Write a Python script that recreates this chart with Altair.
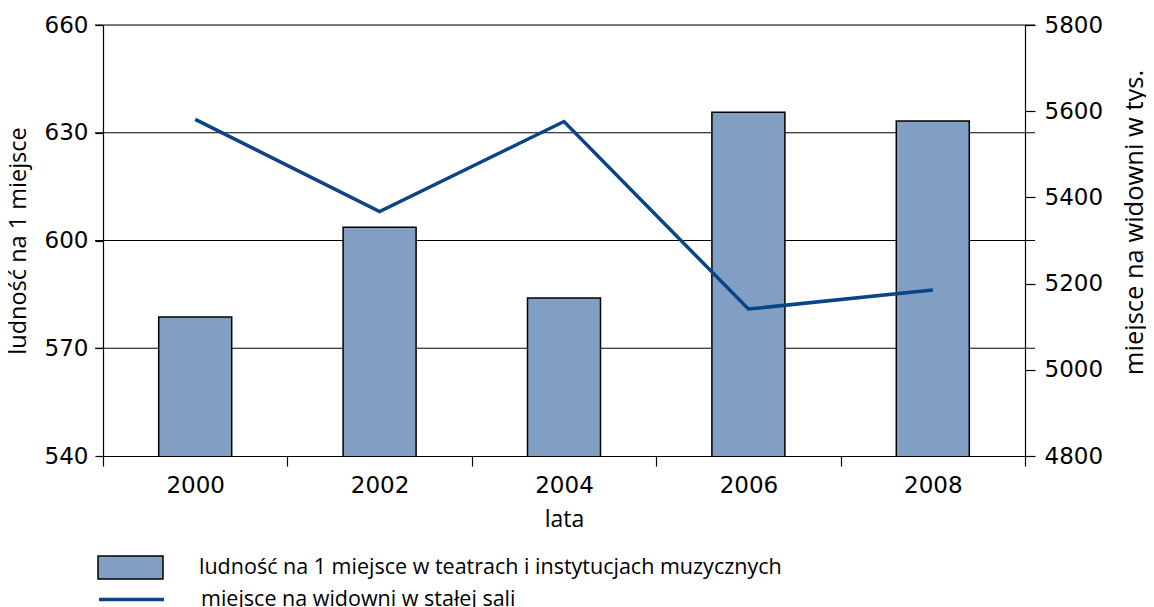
import altair as alt
import pandas as pd

years = ["2000", "2002", "2004", "2006", "2008"]
ludnosc = [578.7, 603.7, 584.0, 635.7, 633.3]
miejsca = [5581, 5367, 5576, 5141, 5185]
grid_vals = [570, 600, 630, 660]
left_ticks = [540, 570, 600, 630, 660]
right_ticks = [4800, 5000, 5200, 5400, 5600, 5800]

bar_name = "ludność na 1 miejsce w teatrach i instytucjach muzycznych"
line_name = "miejsce na widowni w stałej sali"

BAR_COLOR = "#809fc2"
LINE_COLOR = "#0b4486"
FONT = "Open Sans"
NUMFONT = "DejaVu Sans"

df = pd.DataFrame({"rok": years, "ludnosc": ludnosc, "miejsca": miejsca,
                   "s1": bar_name, "s2": line_name})
gdf = pd.DataFrame({"g": grid_vals})

W, H = 922, 431

x_enc = alt.X("rok:N", title="lata",
              scale=alt.Scale(paddingInner=0, paddingOuter=0),
              axis=alt.Axis(labelAngle=0, tickBand="extent", tickSize=10,
                            labelFont=NUMFONT, labelFontSize=23, labelPadding=8,
                            titleFontSize=23, titlePadding=11, domainColor="black",
                            tickColor="black", domainWidth=1.2, tickWidth=1.2))

left_axis = alt.Axis(values=left_ticks, tickSize=8, labelFont=NUMFONT, labelFontSize=23,
                     labelPadding=7, titleFontSize=23.5, titlePadding=14, grid=False,
                     domainColor="black", tickColor="black", domainWidth=1.2, tickWidth=1.2)
left_scale = alt.Scale(domain=[540, 660], nice=False, zero=False)

grid = alt.Chart(gdf).mark_rule(color="black", strokeWidth=1.2).encode(
    y=alt.Y("g:Q", scale=left_scale, axis=left_axis, title="ludność na 1 miejsce"),
    x=alt.value(-8), x2=alt.value(W + 10),
)

bars = alt.Chart(df).mark_bar(size=73, stroke="black", strokeWidth=1.5, clip=True).encode(
    x=x_enc,
    y=alt.Y("ludnosc:Q", scale=left_scale, axis=left_axis, title="ludność na 1 miejsce"),
    fill=alt.Fill("s1:N", scale=alt.Scale(domain=[bar_name], range=[BAR_COLOR]),
                  legend=alt.Legend(title=None, orient="none", legendX=-6, legendY=509,
                                    symbolType="M-1,-0.354h2v0.708h-2z", symbolSize=4225,
                                    symbolStrokeColor="black", symbolStrokeWidth=1.5,
                                    symbolOpacity=1, labelFontSize=21.5, labelOffset=35,
                                    labelLimit=1000, padding=0)),
)

line = alt.Chart(df).mark_line(strokeWidth=3.5).encode(
    x=x_enc,
    y=alt.Y("miejsca:Q", title="miejsce na widowni w tys.",
            scale=alt.Scale(domain=[4800, 5800], nice=False, zero=False),
            axis=alt.Axis(orient="right", values=right_ticks, format="d", tickSize=10,
                          labelFont=NUMFONT, labelFontSize=23, labelPadding=9,
                          titleFontSize=25.5, titlePadding=45, titleAngle=270,
                          titleY=197, grid=False, domainColor="black", tickColor="black",
                          domainWidth=1.2, tickWidth=1.2)),
    stroke=alt.Stroke("s2:N", scale=alt.Scale(domain=[line_name], range=[LINE_COLOR]),
                      legend=alt.Legend(title=None, orient="none", legendX=-6, legendY=540,
                                        symbolType="stroke", symbolSize=4225,
                                        symbolStrokeWidth=3.5, labelFontSize=21.5,
                                        labelOffset=35, labelLimit=1000, padding=0)),
)

left = alt.layer(grid, bars)
chart = alt.layer(left, line).resolve_scale(y="independent", fill="independent",
                                            stroke="independent").properties(
    width=W, height=H,
    autosize=alt.AutoSizeParams(type="none"),
    padding={"left": 95, "top": 17, "right": 121, "bottom": 151},
).configure_view(stroke=None).configure(font=FONT).configure_axis(
    labelColor="black", titleColor="black", titleFontWeight="normal", titleFont=FONT
).configure_legend(labelColor="black", labelFont=FONT)

chart.save("out.html", embed_options={"renderer": "svg", "actions": False})
